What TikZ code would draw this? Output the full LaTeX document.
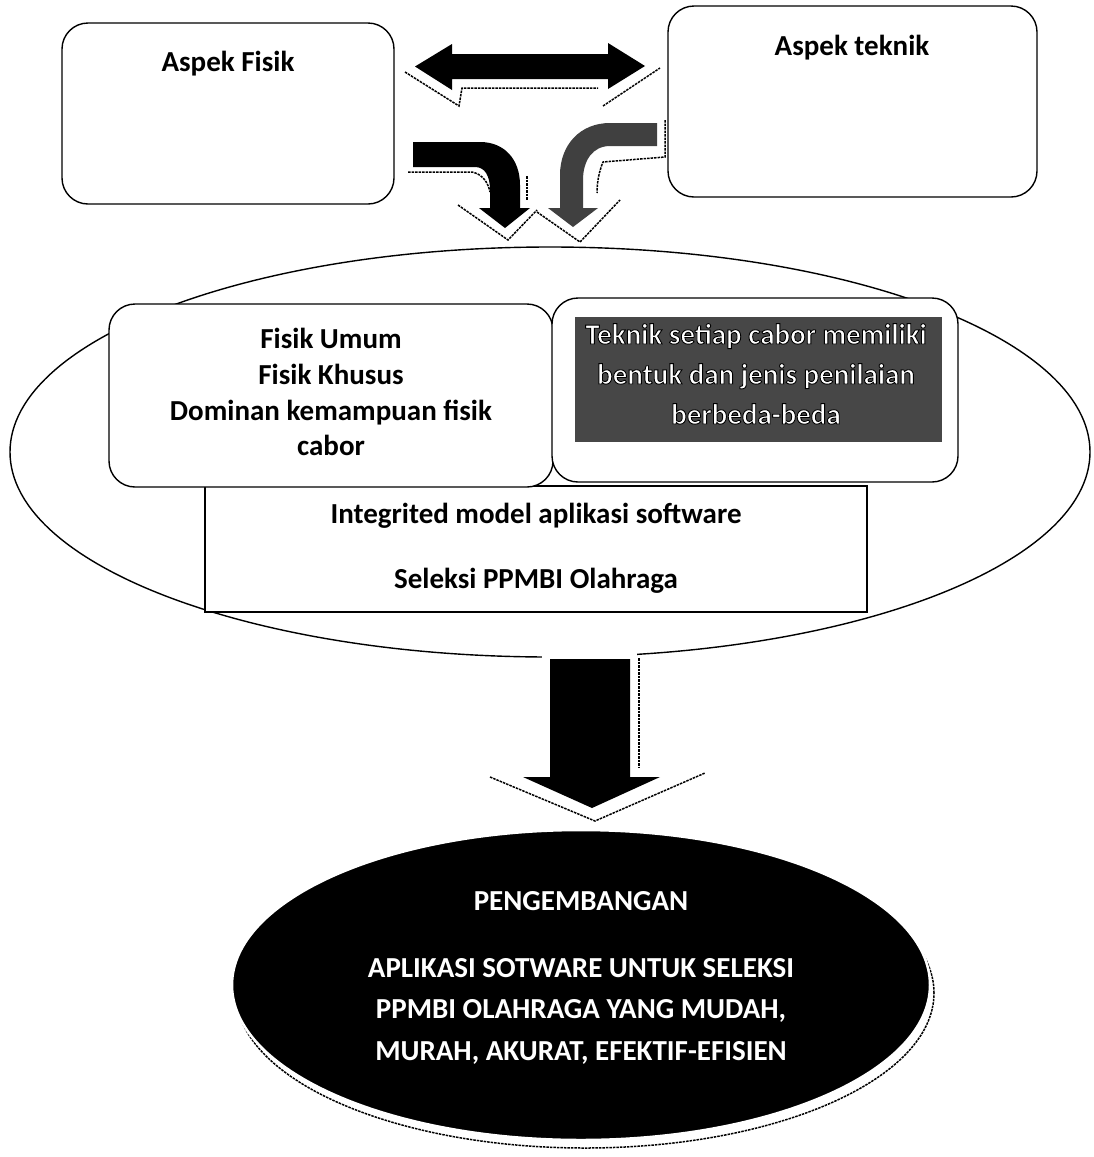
\documentclass[tikz,border=0pt]{standalone}
\usepackage{fontspec}
\setmainfont{Carlito}
\usetikzlibrary{shapes.geometric}
\newcommand\halo[1]{{\color{white}\special{pdf:literal direct 2 Tr 0.9 w 0 G}#1\special{pdf:literal direct 0 Tr}}}
\begin{document}
\begin{tikzpicture}[x=1pt,y=-1pt]
\tikzset{
  lbl/.style={font=\fontsize{29}{35}\selectfont\bfseries, inner sep=0pt, anchor=base},
  rbox/.style={draw, line width=1.4pt, rounded corners=26pt, fill=white, inner sep=0pt},
  shd/.style={line width=1.5pt, dash pattern=on 2.5pt off 1pt},
}
\useasboundingbox[fill=white] (0,0) rectangle (1094,1157);

% ---- top boxes ----
\node[rbox, minimum width=332pt, minimum height=181pt] (af) at (228,113.5) {};
\node[rbox, minimum width=369pt, minimum height=191pt] (at) at (852.5,101.5) {};
\node[lbl] (tAF) at (228,71) {Aspek Fisik};
\node[lbl] (tAT) at (852,55) {Aspek teknik};

% ---- double arrow ----
\fill (415,66.5) -- (452,44) -- (452,54) -- (608,54) -- (608,43) -- (645,66) -- (608,89) -- (608,79) -- (452,79) -- (452,90) -- cycle;
\draw[shd] (405,72) -- (459,106) -- (462,88) -- (598,88);
\draw[shd] (603,106) -- (660,68);

% ---- bent arrows ----
\fill (413,142) -- (480,142) .. controls (505,142) and (520,160) .. (520,185) -- (520,208) -- (530,208) -- (505,228) -- (479,208) -- (490,208) -- (490,190) .. controls (490,176) and (485,167) .. (475,167) -- (413,167) -- cycle;
\draw[shd] (408,172) -- (472,172) .. controls (482,174) and (488,182) .. (490,192);
\draw[shd] (527,176) -- (527,200);
\draw[shd] (458,205) -- (508,240) -- (537,210);

\fill[black!75] (657,123) -- (610,123) .. controls (580,123) and (560,145) .. (560,175) -- (560,208) -- (548,208) -- (573,227) -- (598,208) -- (583,208) -- (583,180) .. controls (583,160) and (593,146) .. (610,146) -- (657,146) -- cycle;
\draw[shd] (665,120) -- (665,157) -- (603,162) .. controls (599,172) and (597,182) .. (597,193);
\draw[shd] (537,212) -- (580,242) -- (620,200);

% ---- middle ellipse ----
\node[draw, line width=1.4pt, ellipse, minimum width=1080pt, minimum height=410pt, inner sep=0pt] (mid) at (550,452) {};
\node[draw, line width=1.4pt, fill=white, minimum width=662pt, minimum height=126pt, inner sep=0pt] (sw) at (536,549) {};
\node[rbox, minimum width=444pt, minimum height=183pt] (fu) at (331,395.5) {};
\node[rbox, minimum width=406pt, minimum height=184pt] (tk) at (755,390) {};
\node[fill=black!72, minimum width=367pt, minimum height=125pt, inner sep=0pt] (dark) at (758.5,379.5) {};

\node[lbl] (f1) at (331,348) {Fisik Umum};
\node[lbl] (f2) at (331,384) {Fisik Khusus};
\node[lbl] (f3) at (331,420) {Dominan kemampuan fisik};
\node[lbl] (f4) at (331,455) {cabor};

\node[lbl] (k1) at (756,344) {\halo{Teknik setiap cabor memiliki}};
\node[lbl] (k2) at (756,384) {\halo{bentuk dan jenis penilaian}};
\node[lbl] (k3) at (756,424) {\halo{berbeda-beda}};

\node[lbl] (s1) at (536,523) {Integrited model aplikasi software};
\node[lbl] (s2) at (536,588) {Seleksi PPMBI Olahraga};

% ---- big down arrow ----
\fill[white] (542,645) rectangle (637,662);
\fill (550,659) -- (630,659) -- (630,777) -- (660,777) -- (592,808) -- (523,777) -- (550,777) -- cycle;
\draw[shd] (639,658) -- (639,768);
\draw[shd] (490,777) -- (595,821) -- (705,773);

% ---- bottom ellipse ----
\node[ellipse, draw, shd, minimum width=698pt, minimum height=310pt, inner sep=0pt] (devs) at (585,993) {};
\node[ellipse, fill=black, draw=white, line width=2.5pt, minimum width=698pt, minimum height=310pt, inner sep=0pt] (dev) at (581,985) {};
\node[lbl, white] (d0) at (581,910) {PENGEMBANGAN};
\node[lbl, white] (d1) at (581,977) {APLIKASI SOTWARE UNTUK SELEKSI};
\node[lbl, white] (d2) at (581,1018) {PPMBI OLAHRAGA YANG MUDAH,};
\node[lbl, white] (d3) at (581,1060) {MURAH, AKURAT, EFEKTIF-EFISIEN};
\end{tikzpicture}
\end{document}
